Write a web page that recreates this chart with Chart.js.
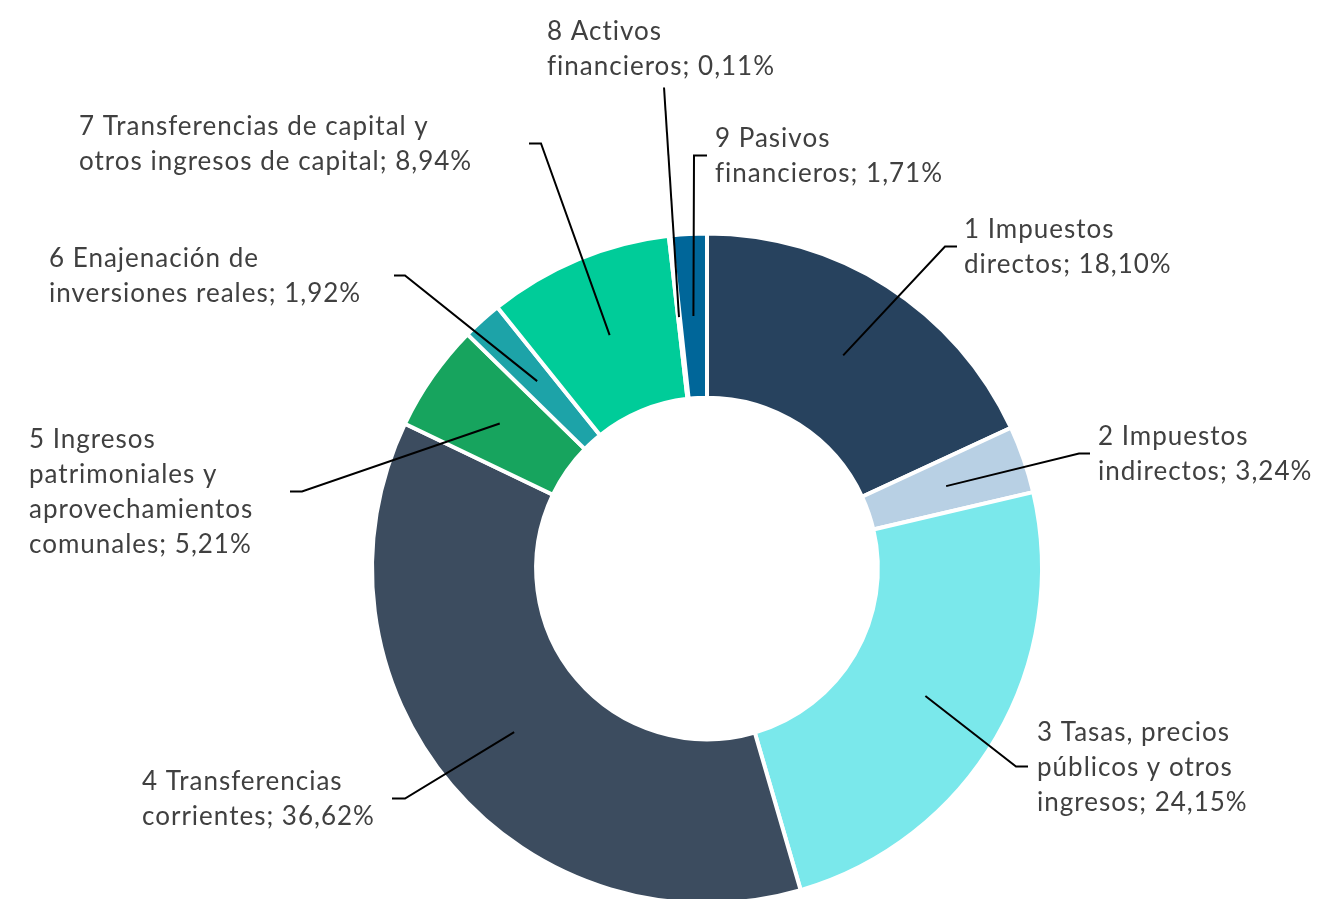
<!DOCTYPE html>
<html lang="es">
<head>
<meta charset="utf-8">
<title>Distribución de ingresos</title>
<script src="https://cdn.jsdelivr.net/npm/chart.js@4.4.1/dist/chart.umd.min.js"></script>
<style>
  html, body { margin: 0; padding: 0; background: #ffffff; overflow: hidden; }
  #wrap { position: relative; width: 1326px; height: 940px; }
</style>
</head>
<body>
<div id="wrap"><canvas id="ingresosChart"></canvas></div>
<script>
// Capítulos de ingresos y su peso (%)
const categorias = [
    '1 Impuestos directos',
    '2 Impuestos indirectos',
    '3 Tasas, precios públicos y otros ingresos',
    '4 Transferencias corrientes',
    '5 Ingresos patrimoniales y aprovechamientos comunales',
    '6 Enajenación de inversiones reales',
    '7 Transferencias de capital y otros ingresos de capital',
    '8 Activos financieros',
    '9 Pasivos financieros'
];
const porcentajes = [18.10, 3.24, 24.15, 36.62, 5.21, 1.92, 8.94, 0.11, 1.71];

// Texto de las etiquetas, ya partido en líneas
const lineasEtiqueta = [
    ['1 Impuestos', 'directos; 18,10%'],
    ['2 Impuestos', 'indirectos; 3,24%'],
    ['3 Tasas, precios', 'públicos y otros', 'ingresos; 24,15%'],
    ['4 Transferencias', 'corrientes; 36,62%'],
    ['5 Ingresos', 'patrimoniales y', 'aprovechamientos', 'comunales; 5,21%'],
    ['6 Enajenación de', 'inversiones reales; 1,92%'],
    ['7 Transferencias de capital y', 'otros ingresos de capital; 8,94%'],
    ['8 Activos', 'financieros; 0,11%'],
    ['9 Pasivos', 'financieros; 1,71%']
];

const colores = ['#27425E', '#B8D0E4', '#7AE8EB', '#3C4C5F', '#17A45E', '#1DA3A8', '#00CC99', '#FFFFFF', '#006699'];

// Colocación de cada etiqueta respecto al centro del anillo:
// codo de la línea guía, final del tramo horizontal, x del texto, y central del bloque
const colocacion = [
    { codo: [238, -322], gancho: 250, textoX: 257, textoY: -321 },
    { codo: [372, -115], gancho: 383, textoX: 391, textoY: -114 },
    { codo: [309, 198], gancho: 321, textoX: 330, textoY: 199 },
    { codo: [-302, 230], gancho: -315, textoX: -565, textoY: 231 },
    { codo: [-405, -77], gancho: -417, textoX: -678, textoY: -76 },
    { codo: [-302, -293], gancho: -313, textoX: -658, textoY: -292 },
    { codo: [-166, -425], gancho: -178, textoX: -628, textoY: -424 },
    { codo: [-43, -481], gancho: -43, textoX: -160, textoY: -519.5 },
    { codo: [-13, -413], gancho: 0, textoX: 8, textoY: -412 }
];

// Dibuja las líneas guía y el texto de cada sector
const etiquetasPlugin = {
    id: 'etiquetasGuia',
    afterDatasetsDraw(chart) {
        const ctx = chart.ctx;
        const meta = chart.getDatasetMeta(0);
        const arco0 = meta.data[0];
        const cx = arco0.x;
        const cy = arco0.y;
        ctx.save();
        meta.data.forEach(function(arco, i) {
            const p = colocacion[i];
            const ancla = arco.tooltipPosition();
            ctx.beginPath();
            ctx.strokeStyle = '#000000';
            ctx.lineWidth = 2;
            ctx.moveTo(ancla.x, ancla.y);
            ctx.lineTo(cx + p.codo[0], cy + p.codo[1]);
            ctx.lineTo(cx + p.gancho, cy + p.codo[1]);
            ctx.stroke();

            const lineas = lineasEtiqueta[i];
            const alto = 35;
            ctx.fillStyle = '#404040';
            ctx.font = '26px Lato, "Open Sans", sans-serif';
            ctx.letterSpacing = '1px';
            ctx.textAlign = 'left';
            ctx.textBaseline = 'middle';
            const y0 = cy + p.textoY - (lineas.length - 1) * alto / 2;
            lineas.forEach(function(linea, j) {
                ctx.fillText(linea, cx + p.textoX, y0 + j * alto);
            });
        });
        ctx.restore();
    }
};

new Chart(document.getElementById('ingresosChart').getContext('2d'), {
    type: 'doughnut',
    data: {
        labels: categorias,
        datasets: [{
            data: porcentajes,
            backgroundColor: colores,
            borderColor: '#FFFFFF',
            borderWidth: 4,
            hoverOffset: 0
        }]
    },
    options: {
        responsive: true,
        maintainAspectRatio: false,
        animation: false,
        cutout: '51%',
        layout: {
            padding: { top: 231, bottom: 34, left: 370, right: 282 }
        },
        plugins: {
            legend: { display: false },
            tooltip: { enabled: false }
        }
    },
    plugins: [etiquetasPlugin]
});
</script>
</body>
</html>
